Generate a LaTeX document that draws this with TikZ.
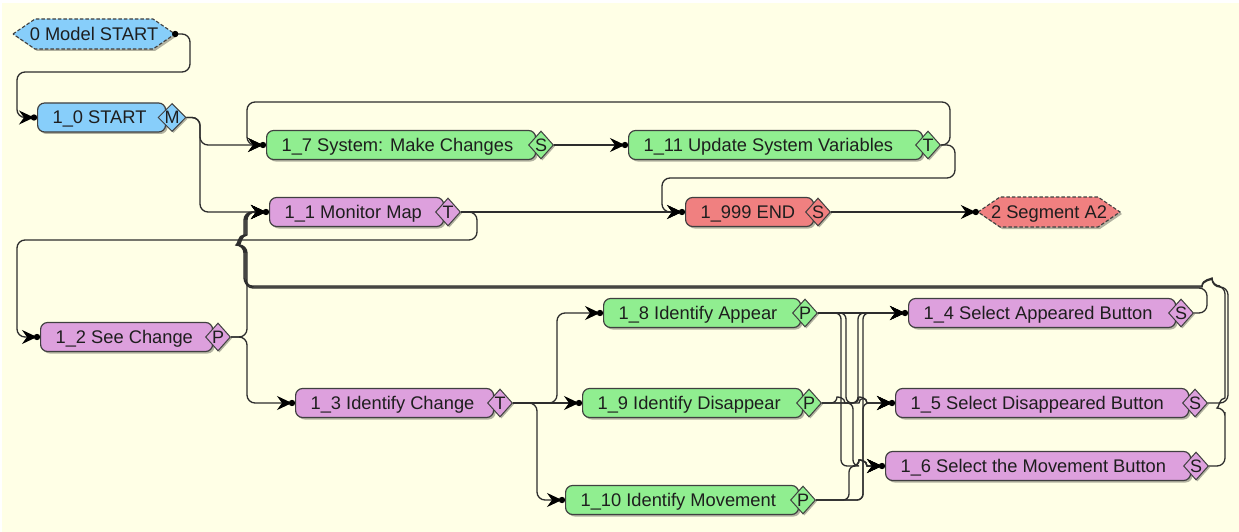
\documentclass[tikz,border=0pt]{standalone}
\usepackage{fontspec}
\setmainfont{Liberation Sans}
\usetikzlibrary{arrows.meta,shapes.geometric,shadows}

\definecolor{paper}{RGB}{255,255,230}
\definecolor{boxline}{RGB}{64,64,64}
\definecolor{linec}{RGB}{45,45,45}
\definecolor{txt}{RGB}{30,30,30}
\definecolor{cblue}{RGB}{135,206,250}
\definecolor{cgreen}{RGB}{144,238,144}
\definecolor{cplum}{RGB}{221,160,221}
\definecolor{cred}{RGB}{240,128,128}

\pgfdeclarelayer{paperlayer}
\pgfdeclarelayer{shapelayer}
\pgfsetlayers{paperlayer,shapelayer,main}

% left-aligned label of fixed width inside a task box
\newcommand{\lbl}[2]{\makebox[#1][l]{#2}}

\tikzset{
  taskbox/.style={rectangle, rounded corners=7pt, draw=boxline, line width=1.2pt, fill=#1,
    minimum height=29pt, inner xsep=15pt, inner ysep=6pt, text height=15pt, text depth=2pt,
    anchor=west, drop shadow={shadow xshift=2pt, shadow yshift=-2pt, fill=black, opacity=0.3}},
  portmark/.style={diamond, draw=boxline, line width=1pt, fill=#1, minimum width=25pt,
    minimum height=28pt, inner sep=0pt, text height=13pt, text depth=0pt,
    font=\fontsize{18pt}{20pt}\selectfont,
    drop shadow={shadow xshift=1.5pt, shadow yshift=-1.5pt, fill=black, opacity=0.3}},
  hexlabel/.style={rectangle, inner sep=0pt, text height=15pt, text depth=2pt, minimum height=30pt},
  hexline/.style={draw=boxline, line width=1.1pt, dash pattern=on 3.5pt off 2pt},
  flow/.style={draw=linec, line width=1.3pt, rounded corners=8pt,
    -{Stealth[length=15pt,width=14pt,inset=5pt,color=black]}},
  bundle/.style={flow, rounded corners=6pt},
  % line jumps: rightward, leftward and upward runs
  hopr/.style 2 args={insert path={-- ({#1-4},#2) [sharp corners]
    .. controls ({#1-4},{#2-6}) and ({#1+4},{#2-6}) .. ({#1+4},#2)}},
  hopl/.style 2 args={insert path={-- ({#1+5},#2) [sharp corners]
    .. controls ({#1+5},{#2-7}) and ({#1-5},{#2-7}) .. ({#1-5},#2) -- ({#1-11},#2) [rounded corners=8pt]}},
  hopu/.style 2 args={insert path={-- (#1,{#2+5}) [sharp corners]
    .. controls ({#1-6},{#2+5}) and ({#1-6},{#2-5}) .. (#1,{#2-5}) -- (#1,{#2-11}) [rounded corners=8pt]}},
}

\begin{document}
\begin{tikzpicture}[x=1pt, y=-1pt, every node/.style={font=\fontsize{18.3pt}{22pt}\selectfont, text=txt}]

\begin{pgfonlayer}{paperlayer}
  \fill[white] (0,0) rectangle (1239,532);
  \fill[paper] (2,3) rectangle (1239,532);
\end{pgfonlayer}
\useasboundingbox (0,0) rectangle (1239,532);

% segment terminals (hexagons)
\node[hexlabel, minimum width=162pt] (n0) at (94,34) {0 Model START};
\node[hexlabel, minimum width=142pt] (n2) at (1049,212) {2 Segment A2};
\begin{pgfonlayer}{shapelayer}
  \fill[black, opacity=0.3] (15,36) -- (37,21) -- (155,21) -- (177,36) -- (155,51) -- (37,51) -- cycle;
  \filldraw[fill=cblue, hexline] (13,34) -- (35,19) -- (153,19) -- (175,34) -- (153,49) -- (35,49) -- cycle;
  \fill[black, opacity=0.3] (980,214) -- (1002,199) -- (1100,199) -- (1122,214) -- (1100,229) -- (1002,229) -- cycle;
  \filldraw[fill=cred, hexline] (978,212) -- (1000,197) -- (1098,197) -- (1120,212) -- (1098,227) -- (1000,227) -- cycle;
\end{pgfonlayer}

% tasks with their exit ports
\node[taskbox=cblue] (n10) at (37,117.5) {\lbl{98pt}{1\_0 START}};
\node[portmark=cblue] (d10) at (172,117.5) {M};

\node[taskbox=cgreen] (n17) at (266,145) {\lbl{239pt}{1\_7 System: Make Changes}};
\node[portmark=cgreen] (d17) at (541,145) {S};

\node[taskbox=cgreen] (n111) at (628,145) {\lbl{264pt}{1\_11 Update System Variables}};
\node[portmark=cgreen] (d111) at (928,145) {T};

\node[taskbox=cplum] (n11) at (269,212) {\lbl{144pt}{1\_1 Monitor Map}};
\node[portmark=cplum] (d11) at (448,212) {T};

\node[taskbox=cred] (n1999) at (685,212) {\lbl{98pt}{1\_999 END}};
\node[portmark=cred] (d1999) at (818,212) {S};

\node[taskbox=cplum] (n12) at (40,337) {\lbl{142pt}{1\_2 See Change}};
\node[portmark=cplum] (d12) at (218,337) {P};

\node[taskbox=cplum] (n13) at (295,403) {\lbl{168pt}{1\_3 Identify Change}};
\node[portmark=cplum] (d13) at (500,403) {T};

\node[taskbox=cgreen] (n18) at (603,313) {\lbl{167pt}{1\_8 Identify Appear}};
\node[portmark=cgreen] (d18) at (805,313) {P};

\node[taskbox=cgreen] (n19) at (582,403) {\lbl{190pt}{1\_9 Identify Disappear}};
\node[portmark=cgreen] (d19) at (809,403) {P};

\node[taskbox=cgreen] (n110) at (565,500) {\lbl{203pt}{1\_10 Identify Movement}};
\node[portmark=cgreen] (d110) at (803,500) {P};

\node[taskbox=cplum] (n14) at (908,313) {\lbl{237pt}{1\_4 Select Appeared Button}};
\node[portmark=cplum] (d14) at (1181,313) {S};

\node[taskbox=cplum] (n15) at (895,403) {\lbl{263pt}{1\_5 Select Disappeared Button}};
\node[portmark=cplum] (d15) at (1195,403) {S};

\node[taskbox=cplum] (n16) at (885,466) {\lbl{275pt}{1\_6 Select the Movement Button}};
\node[portmark=cplum] (d16) at (1196,466) {S};

% entry points
\foreach \n in {n10,n17,n111,n11,n1999,n12,n13,n18,n19,n110,n14,n15,n16}
  \coordinate (i\n) at ([xshift=-3pt]\n.west);
\coordinate (in2) at ([xshift=-2pt]n2.west);

% control flow
\draw[flow] (n0.east) -| (190,72) -| (17,117.5) -- (in10);
\draw[flow] (d10.east) -| (200,145) -- (in17);
\draw[flow] (d10.east) -| (200,212) -- (in11);
\draw[flow] (d17.east) -- (in111);
\draw[flow] (d111.east) -| (950,102) -| (247,145) -- (in17);
\draw[flow] (d111.east) -| (955,178) -| (662,212) -- (in1999);
\draw[flow] (d11.east) -- (in1999);
\draw[flow] (d1999.east) -- (in2);
\draw[flow] (d11.east) -| (477,240) -| (17,337) -- (in12);
\draw[flow] (d12.east) -| (247,260) [hopu={247}{240}] -- (247,212) -- (in11);
\draw[flow] (d12.east) -| (247,403) -- (in13);

\draw[flow] (d13.east) -| (557,313) -- (in18);
\draw[flow] (d13.east) -- (in19);
\draw[flow] (d13.east) -| (537,500) -- (in110);

% identify -> select bundle
\draw[bundle] (d18.east) -- (in14);
\draw[bundle] (d18.east) -| (846,403) [hopr={863}{403}] -- (in15);
\draw[bundle] (d18.east) -| (841,466) [hopr={863}{466}] -- (in16);
\draw[bundle] (d19.east) -| (858,313) -- (in14);
\draw[bundle] (d19.east) [hopr={841}{403}] [hopr={863}{403}] -- (in15);
\draw[bundle] (d19.east) -| (853,466) [hopr={863}{466}] -- (in16);
\draw[bundle] (d110.east) -| (863,313) -- (in14);
\draw[bundle] (d110.east) -| (863,403) -- (in15);
\draw[bundle] (d110.east) -| (849,466) [hopr={863}{466}] -- (in16);

% select -> back to monitoring
\draw[flow] (d14.east) -| (1207,288) -| (245,260) [hopu={245}{240}] -- (245,212) -- (in11);
\draw[flow] (d15.east) -| (1228,287) [hopl={1207}{287}] -| (246,260) [hopu={246}{240}] -- (246,212) -- (in11);
\draw[flow] (d16.east) -| (1225,420) [hopu={1225}{403}] -- (1225,286) [hopl={1207}{286}]
  -| (244,260) [hopu={244}{240}] -- (244,212) -- (in11);

% connection dots
\foreach \c in {in10,in17,in111,in11,in1999,in2,in12,in13,in18,in19,in110,in14,in15,in16}
  \fill[black] (\c) circle[radius=3.2pt];
\fill[black] (n0.east) circle[radius=3.2pt];

\end{tikzpicture}
\end{document}
